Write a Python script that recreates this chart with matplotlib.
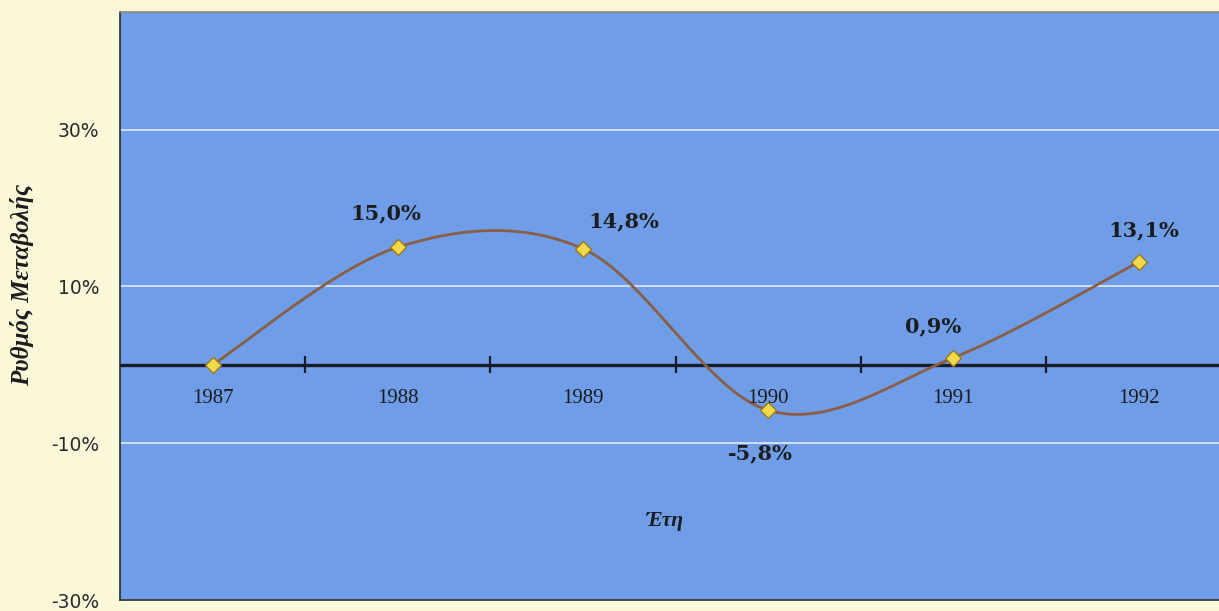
import numpy as np
import matplotlib
matplotlib.use("Agg")
import matplotlib.pyplot as plt

# Annual rate of change, 1987-1992 (%)
years = ["1987", "1988", "1989", "1990", "1991", "1992"]
rates = [0.0, 15.0, 14.8, -5.8, 0.9, 13.1]
labelled = [False, True, True, True, True, True]
ytick_values = [-30, -10, 10, 30]

BG = "#fbf8da"
PLOT_BG = "#6f9de8"
LINE = "#8a5e45"
MARKER = "#f2d94a"
AXIS = "#1b1b2a"


def smooth_curve(xs, ys, steps=40):
    """Bezier smoothing of a polyline (control points at 1/6 of neighbour span)."""
    xs = np.asarray(xs, float)
    ys = np.asarray(ys, float)
    px = np.concatenate([[xs[0]], xs, [xs[-1]]])
    py = np.concatenate([[ys[0]], ys, [ys[-1]]])
    out_x, out_y = [], []
    t = np.linspace(0, 1, steps)
    for i in range(1, len(px) - 2):
        p0 = np.array([px[i], py[i]])
        p3 = np.array([px[i + 1], py[i + 1]])
        c1 = p0 + (p3 - np.array([px[i - 1], py[i - 1]])) / 6.0
        c2 = p3 - (np.array([px[i + 2], py[i + 2]]) - p0) / 6.0
        b = ((1 - t) ** 3)[:, None] * p0 + (3 * (1 - t) ** 2 * t)[:, None] * c1 \
            + (3 * (1 - t) * t ** 2)[:, None] * c2 + (t ** 3)[:, None] * p3
        out_x.extend(b[:, 0])
        out_y.extend(b[:, 1])
    return np.array(out_x), np.array(out_y)


fig = plt.figure(figsize=(12.19, 6.11), dpi=100, facecolor=BG)
ax = fig.add_axes([120 / 1219, 1 - 600 / 611, 1 - 120 / 1219 + 0.01, (600 - 12) / 611])
ax.set_facecolor(PLOT_BG)

x = np.arange(len(years))
ax.set_xlim(-0.5, len(years) - 0.5)
ax.set_ylim(-30, 45)

# horizontal gridlines
for v in ytick_values:
    ax.axhline(v, color="#eef0f4", lw=1.3, alpha=0.85, zorder=1)

# zero axis with category separators
ax.axhline(0, color=AXIS, lw=2.4, zorder=2)
for b in np.arange(0.5, len(years) - 0.5, 1.0):
    ax.plot([b, b], [-1.1, 1.1], color=AXIS, lw=1.6, zorder=2, solid_capstyle="butt")

# smoothed series line and markers
sx, sy = smooth_curve(x, rates)
ax.plot(sx, sy, color=LINE, lw=2.0, zorder=3)
ax.plot(x, rates, ls="none", marker="D", ms=8, mfc=MARKER, mec="#9a7a20", mew=1.0, zorder=4)

# value labels
offsets = [(0, 0), (-12, 34), (41, 27), (-8, -43), (-20, 31), (5, 32)]
for xi, v, show, off in zip(x, rates, labelled, offsets):
    if not show:
        continue
    ax.annotate(f"{v:.1f}%".replace(".", ","), (xi, v), xytext=off,
                textcoords="offset pixels", ha="center", va="center",
                fontsize=15, fontweight="bold", family="DejaVu Serif",
                color="#1c1c1c", zorder=5)

# year labels just below the zero axis
for xi, yr in zip(x, years):
    ax.annotate(yr, (xi, 0), xytext=(0, -34), textcoords="offset pixels",
                ha="center", va="center", fontsize=15,
                family="Liberation Serif", color="#1c1c1c", zorder=5)

# axis styling
ax.set_xticks([])
ax.set_yticks(ytick_values)
ax.set_yticklabels([f"{v}%" for v in ytick_values], fontsize=13.5,
                   family="DejaVu Sans", color="#2a2a2a")
ax.tick_params(axis="y", length=0, pad=15)
for side in ["top", "bottom", "left"]:
    ax.spines[side].set_color("#2a2a2a")
    ax.spines[side].set_linewidth(1.2)
ax.spines["right"].set_visible(False)
ax.spines["top"].set_color("#8a8a70")

ax.text(0.49, 0.135, "Έτη", transform=ax.transAxes, ha="center", va="center",
        fontsize=15.5, fontstyle="italic", fontweight="bold",
        family="Liberation Serif", color="#1c1c1c")

fig.text(22 / 1219, 1 - 285 / 611, "Ρυθμός Μεταβολής", rotation=90,
         ha="center", va="center", fontsize=18, fontstyle="italic",
         fontweight="bold", family="Liberation Serif", color="#1c1c1c")

fig.savefig("out.png", dpi=100, facecolor=BG)
